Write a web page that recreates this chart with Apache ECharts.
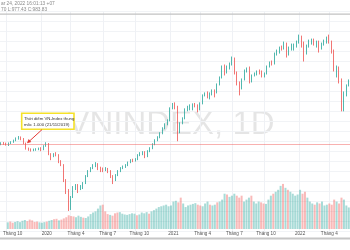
<!DOCTYPE html>
<html><head><meta charset="utf-8">
<script src="https://cdn.jsdelivr.net/npm/echarts@6/dist/echarts.min.js"></script>
<style>html,body{margin:0;padding:0;background:#fff}#c{width:350px;height:250px}</style>
</head><body><div id="c"></div>
<script>
// Weekly periods (Monday of each trading week)
const weeks = [
'2019-09-16','2019-09-23','2019-09-30','2019-10-07','2019-10-14','2019-10-21','2019-10-28','2019-11-04','2019-11-11','2019-11-18','2019-11-25','2019-12-02','2019-12-09','2019-12-16','2019-12-23','2019-12-30',
'2020-01-06','2020-01-13','2020-01-20','2020-01-27','2020-02-03','2020-02-10','2020-02-17','2020-02-24','2020-03-02','2020-03-09','2020-03-16','2020-03-23','2020-03-30','2020-04-06','2020-04-13','2020-04-20','2020-04-27','2020-05-04','2020-05-11','2020-05-18','2020-05-25','2020-06-01','2020-06-08','2020-06-15','2020-06-22','2020-06-29','2020-07-06','2020-07-13','2020-07-20','2020-07-27','2020-08-03','2020-08-10','2020-08-17','2020-08-24','2020-08-31','2020-09-07','2020-09-14','2020-09-21','2020-09-28','2020-10-05','2020-10-12','2020-10-19','2020-10-26','2020-11-02','2020-11-09','2020-11-16','2020-11-23','2020-11-30','2020-12-07','2020-12-14','2020-12-21','2020-12-28',
'2021-01-04','2021-01-11','2021-01-18','2021-01-25','2021-02-01','2021-02-08','2021-02-15','2021-02-22','2021-03-01','2021-03-08','2021-03-15','2021-03-22','2021-03-29','2021-04-05','2021-04-12','2021-04-19','2021-04-26','2021-05-03','2021-05-10','2021-05-17','2021-05-24','2021-05-31','2021-06-07','2021-06-14','2021-06-21','2021-06-28','2021-07-05','2021-07-12','2021-07-19','2021-07-26','2021-08-02','2021-08-09','2021-08-16','2021-08-23','2021-08-30','2021-09-06','2021-09-13','2021-09-20','2021-09-27','2021-10-04','2021-10-11','2021-10-18','2021-10-25','2021-11-01','2021-11-08','2021-11-15','2021-11-22','2021-11-29','2021-12-06','2021-12-13','2021-12-20','2021-12-27',
'2022-01-03','2022-01-10','2022-01-17','2022-01-24','2022-02-07','2022-02-14','2022-02-21','2022-02-28','2022-03-07','2022-03-14','2022-03-21','2022-03-28','2022-04-04','2022-04-11','2022-04-18','2022-04-25','2022-05-02','2022-05-09','2022-05-16','2022-05-23','2022-05-30'
];
const opens = [985,992,988,984,990,996,1004,1015,1020,1012,990,962,960,955,958,960,
962,958,975,991,937,925,935,930,900,882,805,750,680,720,765,775,765,770,790,825,850,864,880,885,870,860,858,862,850,825,805,830,850,865,870,880,895,905,902,910,930,935,945,925,950,965,985,1005,1020,1040,1065,1085,
1104,1165,1185,1170,1055,1090,1115,1160,1168,1170,1185,1180,1160,1190,1230,1240,1225,1240,1250,1245,1285,1320,1375,1345,1375,1385,1415,1345,1295,1270,1310,1355,1360,1305,1330,1340,1350,1345,1330,1340,1375,1395,1390,1440,1450,1470,1465,1490,1445,1465,1475,1480,
1498,1525,1495,1440,1480,1500,1505,1495,1500,1470,1490,1500,1520,1500,1455,1365,1370,1310,1170,1240,1280];
const closes = [992,988,984,990,996,1004,1015,1020,1012,990,962,960,955,958,960,962,
958,975,991,937,925,935,930,900,882,805,750,680,720,765,775,765,770,790,825,850,864,880,885,870,860,858,862,850,825,805,830,850,865,870,880,895,905,902,910,930,935,945,925,950,965,985,1005,1020,1040,1065,1085,1104,
1165,1185,1170,1055,1090,1115,1160,1168,1170,1185,1180,1160,1190,1230,1240,1225,1240,1250,1245,1285,1320,1375,1345,1375,1385,1415,1345,1295,1270,1310,1355,1360,1305,1330,1340,1350,1345,1330,1340,1375,1395,1390,1440,1450,1470,1465,1490,1445,1465,1475,1480,1498,
1525,1495,1440,1480,1500,1505,1495,1500,1470,1490,1500,1520,1500,1455,1365,1370,1310,1170,1240,1280,1295];
const lows = [980,982,978,976,986,992,1000,1008,1005,985,958,952,948,950,952,955,
950,955,972,930,905,920,924,890,875,795,735,650,655,715,755,740,755,760,785,820,845,860,870,855,845,845,850,840,815,785,800,825,845,860,866,875,890,895,898,905,925,930,915,920,945,960,980,1000,1015,1035,1060,1080,
1100,1160,1160,1000,1040,1085,1110,1150,1155,1155,1170,1145,1155,1185,1225,1215,1210,1230,1220,1240,1280,1315,1330,1340,1360,1380,1335,1280,1230,1260,1305,1345,1290,1295,1325,1330,1335,1320,1320,1335,1370,1380,1385,1430,1440,1455,1460,1420,1430,1455,1455,1470,
1490,1470,1400,1435,1470,1485,1480,1470,1445,1460,1480,1490,1490,1440,1350,1320,1290,1150,1150,1225,1275];
const highs = [995,996,993,994,1000,1008,1019,1026,1024,1016,993,968,964,963,965,968,
970,980,995,991,940,940,945,935,905,885,810,760,725,775,785,785,780,795,830,855,870,885,895,890,872,868,870,866,855,830,835,855,870,878,885,898,910,912,915,935,945,950,950,955,970,990,1010,1025,1045,1070,1090,1110,
1170,1192,1195,1178,1095,1120,1165,1178,1185,1190,1192,1185,1195,1235,1245,1250,1245,1260,1260,1290,1325,1380,1385,1380,1395,1425,1420,1350,1300,1315,1360,1370,1375,1335,1345,1355,1360,1355,1345,1380,1400,1405,1445,1460,1475,1480,1500,1495,1475,1490,1490,1505,
1535,1530,1500,1485,1510,1515,1515,1505,1505,1495,1510,1525,1535,1505,1460,1380,1375,1315,1250,1285,1310];
// average daily volume (million shares)
const volumes = [170,190,160,180,200,175,210,230,200,240,220,180,190,170,160,175,
190,210,230,250,260,220,240,270,300,350,330,320,300,340,310,290,280,320,380,420,450,520,600,620,450,380,360,340,400,420,430,390,370,360,380,400,390,350,370,420,400,430,390,450,480,520,560,580,600,620,580,600,
700,720,680,800,650,560,600,620,640,660,620,600,580,650,700,620,600,620,680,700,750,900,880,820,850,900,850,800,850,700,750,800,850,700,650,700,680,650,640,750,850,900,950,1000,1100,1150,1050,1000,950,900,850,880,
1000,900,950,800,700,650,620,680,650,700,600,620,650,620,750,700,650,800,750,600,550];
const tickWeeks = ['2019-09-30','2020-01-06','2020-03-30','2020-06-29','2020-09-28','2021-01-04','2021-03-29','2021-06-28','2021-09-27','2022-01-03','2022-04-04'];
const tickLabels = ['Tháng 10','2020','Tháng 4','Tháng 7','Tháng 10','2021','Tháng 4','Tháng 7','Tháng 10','2022','Tháng 4'];
const lastClose = 983.83;
const headerLines = ['ar 24, 2022 16:01:13 +07', '70 L:977.43 C:983.83'];
const watermark = 'VNINDEX, 1D';
const noteLines = ['Thời điểm VN-Index thủng', 'mốc 1.000 (21/11/2019)'];

const UP = '#26a69a', DOWN = '#ef5350';
const FONT = 'Liberation Sans, Arial, sans-serif';
const isTick = (i, v) => tickWeeks.indexOf(v) >= 0;

const chart = echarts.init(document.getElementById('c'), null, {renderer: 'canvas'});
chart.setOption({
  animation: false,
  backgroundColor: '#fff',
  grid: [
    {left: 0, right: 0, top: 11.7, bottom: 19.1},
    {left: 0, right: 0, top: 131, bottom: 21}
  ],
  xAxis: [
    {type: 'category', data: weeks, gridIndex: 0, boundaryGap: true,
     axisLine: {show: false}, axisTick: {show: false}, axisLabel: {show: false},
     splitLine: {show: true, interval: isTick, alignWithLabel: true, lineStyle: {color: '#eff1f5', width: 1}}},
    {type: 'category', data: weeks, gridIndex: 1, boundaryGap: true,
     axisLine: {show: false}, axisTick: {show: false}, splitLine: {show: false},
     axisLabel: {show: true, interval: isTick, margin: 2.5, fontSize: 4.6, color: '#555', fontFamily: FONT,
       formatter: v => tickLabels[tickWeeks.indexOf(v)]}}
  ],
  yAxis: [
    {type: 'value', gridIndex: 0, min: 550, max: 1650, interval: 50,
     axisLine: {show: false}, axisTick: {show: false}, axisLabel: {show: false},
     splitLine: {show: true, lineStyle: {color: '#f1f3f6', width: 1}}},
    {type: 'value', gridIndex: 1, min: 0, max: 2500, show: false, splitLine: {show: false}}
  ],
  series: [
    {type: 'bar', xAxisIndex: 1, yAxisIndex: 1, z: 1, barCategoryGap: '18%',
     data: volumes.map((v, i) => ({value: v, itemStyle: {color: closes[i] >= opens[i] ? 'rgba(38,166,154,0.4)' : 'rgba(239,83,80,0.4)'}}))},
    {type: 'candlestick', xAxisIndex: 0, yAxisIndex: 0, z: 3, barWidth: 1.3,
     itemStyle: {color: UP, color0: DOWN, borderColor: UP, borderColor0: DOWN, borderWidth: 0.8},
     data: weeks.map((w, i) => [opens[i], closes[i], lows[i], highs[i]]),
     markLine: {silent: true, symbol: ['none', 'none'], label: {show: false},
       lineStyle: {color: 'rgba(239,83,80,0.45)', type: 'solid', width: 1},
       data: [{yAxis: lastClose}]}}
  ],
  graphic: [
    {type: 'text', z: -1, x: 171, y: 125, silent: true,
     style: {text: watermark, fontSize: 33, fontFamily: FONT, fill: 'rgba(0,0,0,0.1)', textAlign: 'center', textVerticalAlign: 'middle'}},
    {type: 'text', z: 50, x: 1, y: 4, style: {text: headerLines[0], fontSize: 4.8, fontFamily: FONT, fill: '#8a8a8a', textVerticalAlign: 'middle'}},
    {type: 'text', z: 50, x: 1, y: 10, style: {text: headerLines[1], fontSize: 4.8, fontFamily: FONT, fill: '#8a8a8a', textVerticalAlign: 'middle'}},
    {type: 'rect', z: 50, shape: {x: 0, y: 13.4, width: 350, height: 1.3}, style: {fill: '#c2c2c2'}},
    {type: 'rect', z: 50, shape: {x: 0, y: 237.6, width: 350, height: 2}, style: {fill: '#c6c6c6'}},
    {type: 'rect', z: 60, shape: {x: 21.7, y: 113.3, width: 52.3, height: 16}, style: {fill: '#fff', stroke: '#f5e22a', lineWidth: 1.6}},
    {type: 'text', z: 61, x: 24, y: 118.4, style: {text: noteLines[0], fontSize: 4.3, fontFamily: FONT, fill: '#333', textVerticalAlign: 'middle'}},
    {type: 'text', z: 61, x: 24, y: 124.4, style: {text: noteLines[1], fontSize: 4.3, fontFamily: FONT, fill: '#333', textVerticalAlign: 'middle'}},
    {type: 'line', z: 61, shape: {x1: 42, y1: 129.6, x2: 29, y2: 141.5}, style: {stroke: '#e53935', lineWidth: 1}},
    {type: 'polygon', z: 61, shape: {points: [[27, 143.3], [31.3, 142.1], [28.6, 139.1]]}, style: {fill: '#e53935'}}
  ]
});
</script>
</body></html>
